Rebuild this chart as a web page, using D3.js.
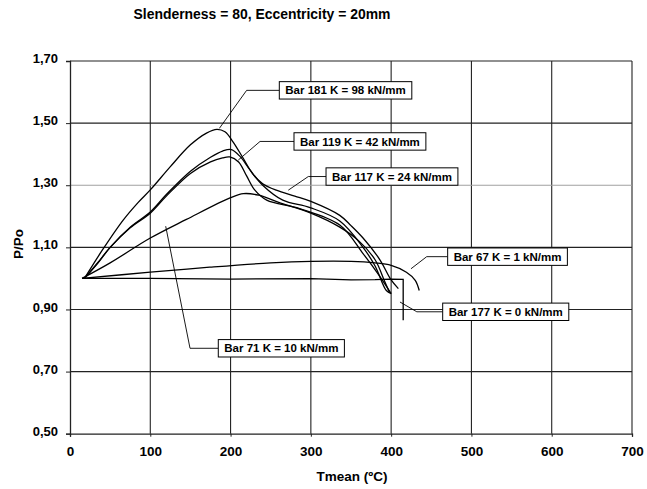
<!DOCTYPE html>
<html>
<head>
<meta charset="utf-8">
<script src="https://cdn.jsdelivr.net/npm/d3@7"></script>
<style>
  body { margin: 0; background: #fff; }
  text { font-family: "Liberation Sans", Arial, sans-serif; font-weight: bold; fill: #000; }
</style>
</head>
<body>
<svg id="chart" width="647" height="489"></svg>
<script>
// series: [Tmean (ºC), P/Po]
const bar181 = [[18,1.0],[40,1.09],[66,1.187],[85,1.245],[100,1.285],[125,1.36],[150,1.43],[170,1.468],[183,1.48],[193,1.472],[203,1.44],[215,1.39],[228,1.335],[240,1.305],[257,1.284],[280,1.265],[300,1.248],[336,1.203],[350,1.17],[365,1.13],[386,1.06],[400,0.995],[409,0.967]];
const bar119 = [[18,1.0],[35,1.05],[50,1.1],[75,1.165],[100,1.214],[120,1.27],[150,1.345],[175,1.39],[190,1.41],[201,1.415],[212,1.392],[224,1.35],[240,1.3],[265,1.252],[299,1.228],[336,1.185],[365,1.1],[380,1.04],[394,0.961],[400,0.951]];
const bar117 = [[18,1.0],[35,1.052],[50,1.1],[75,1.163],[100,1.21],[120,1.265],[150,1.338],[175,1.375],[190,1.388],[199,1.391],[210,1.375],[220,1.33],[230,1.285],[245,1.252],[286,1.225],[336,1.172],[365,1.08],[385,1.01],[400,0.951]];
const bar71 = [[15,1.0],[50,1.05],[100,1.13],[145,1.19],[200,1.26],[216,1.273],[235,1.268],[260,1.245],[300,1.21],[336,1.165],[360,1.12],[380,1.06],[392,0.99],[398,0.955]];
const bar67 = [[15,1.0],[100,1.02],[174,1.036],[250,1.05],[300,1.055],[350,1.055],[380,1.05],[400,1.042],[419,1.02],[430,0.994],[435,0.961]];
const bar177 = [[15,1.0],[100,1.0],[200,0.998],[300,0.999],[350,0.995],[380,0.996],[400,0.998],[415,0.997],[415,0.865]];

const xTicks = [0,100,200,300,400,500,600,700];
const yTicks = [0.5,0.7,0.9,1.1,1.3,1.5,1.7];

// label text, box anchor and leader line in data units
const notes = [
  {text:"Bar 181 K = 98 kN/mm", box:[260.7,1.6055], knee:[220,1.6055], tip:[186,1.483]},
  {text:"Bar 119 K = 42 kN/mm", box:[279,1.441], knee:[236.7,1.441], tip:[209.6,1.381]},
  {text:"Bar 117 K = 24 kN/mm", box:[318.9,1.328], knee:[296.8,1.328], tip:[271.9,1.284]},
  {text:"Bar 67 K = 1 kN/mm", box:[470.4,1.07], knee:[444.3,1.07], tip:[424.7,1.031]},
  {text:"Bar 177 K = 0 kN/mm", box:[464.2,0.8925], knee:[432,0.8925], tip:[411,0.924]},
  {text:"Bar 71 K = 10 kN/mm", box:[184.7,0.775], knee:[149.5,0.775], tip:[119.2,1.168]}
];

const svg = d3.select("#chart");
const margin = {top: 61, right: 15, bottom: 55.3, left: 70};
const width = 647 - margin.left - margin.right;
const height = 489 - margin.top - margin.bottom;

const x = d3.scaleLinear().domain([0,700]).range([margin.left, margin.left + width]);
const y = d3.scaleLinear().domain([0.5,1.7]).range([margin.top + height, margin.top]);
const fmt = d3.formatLocale({decimal:",", thousands:".", grouping:[3], currency:["",""]}).format(".2f");

// grid
const grid = svg.append("g");
xTicks.filter(d => d > 0).forEach(d => {
  grid.append("line")
      .attr("x1", x(d)).attr("x2", x(d))
      .attr("y1", y(0.5)).attr("y2", y(1.7))
      .attr("stroke", "#222").attr("stroke-width", 1.1);
});
yTicks.filter(d => d > 0.5).forEach(d => {
  grid.append("line")
      .attr("x1", x(0)).attr("x2", x(700))
      .attr("y1", y(d)).attr("y2", y(d))
      .attr("stroke", Math.abs(d - 1.3) < 1e-6 ? "#a0a0a0" : "#222")
      .attr("stroke-width", 1.1);
});

// axes
const bottomAxis = d3.axisBottom(x).tickValues(xTicks).tickSize(3).tickPadding(10).tickFormat(d3.format("d"));
svg.append("g")
   .attr("transform", `translate(0,${y(0.5)})`)
   .call(bottomAxis)
   .call(g => g.select(".domain").attr("stroke", "#222").attr("stroke-width", 1.3))
   .call(g => g.selectAll("line").attr("stroke", "#222"))
   .call(g => g.selectAll("text").style("font-size", "13.5px").attr("font-family", null));

const leftAxis = d3.axisLeft(y).tickValues(yTicks).tickSize(4).tickPadding(8).tickFormat(fmt);
svg.append("g")
   .attr("transform", `translate(${x(0)},0)`)
   .call(leftAxis)
   .call(g => g.select(".domain").attr("stroke", "#222").attr("stroke-width", 1.3))
   .call(g => g.selectAll("line").attr("stroke", "#222"))
   .call(g => g.selectAll("text").attr("dy", "0.12em").style("font-size", "13px").attr("font-family", null));

// curves
const smooth = d3.line().x(d => x(d[0])).y(d => y(d[1])).curve(d3.curveCatmullRom.alpha(0.5));
const straight = d3.line().x(d => x(d[0])).y(d => y(d[1]));
[bar181, bar119, bar117, bar71, bar67].forEach(s => {
  svg.append("path").attr("d", smooth(s))
     .attr("fill", "none").attr("stroke", "#000").attr("stroke-width", 1.3);
});
svg.append("path").attr("d", straight(bar177))
   .attr("fill", "none").attr("stroke", "#000").attr("stroke-width", 1.3);

// labels
const labels = svg.append("g");
notes.forEach(n => {
  labels.append("polyline")
        .attr("points", [n.box, n.knee, n.tip].map(p => [x(p[0]), y(p[1])].join(",")).join(" "))
        .attr("fill", "none").attr("stroke", "#000").attr("stroke-width", 0.9);
  const g = labels.append("g");
  const rect = g.append("rect").attr("fill", "#fff").attr("stroke", "#000").attr("stroke-width", 1);
  const t = g.append("text")
             .attr("x", x(n.box[0]) + 6)
             .attr("y", y(n.box[1]))
             .attr("dy", "0.36em")
             .style("font-size", "11.5px")
             .text(n.text);
  const w = t.node().getComputedTextLength();
  rect.attr("x", x(n.box[0])).attr("y", y(n.box[1]) - 8.7)
      .attr("width", w + 12).attr("height", 17.4);
});

// titles
svg.append("text")
   .attr("x", 262).attr("y", 19)
   .attr("text-anchor", "middle")
   .attr("textLength", 257).attr("lengthAdjust", "spacingAndGlyphs")
   .style("font-size", "15px")
   .text("Slenderness = 80, Eccentricity = 20mm");

svg.append("text")
   .attr("x", 352).attr("y", 481)
   .attr("text-anchor", "middle")
   .style("font-size", "13.5px")
   .text("Tmean (ºC)");

svg.append("text")
   .attr("transform", "translate(23,244) rotate(-90)")
   .attr("text-anchor", "middle")
   .style("font-size", "13.5px")
   .text("P/Po");
</script>
</body>
</html>
